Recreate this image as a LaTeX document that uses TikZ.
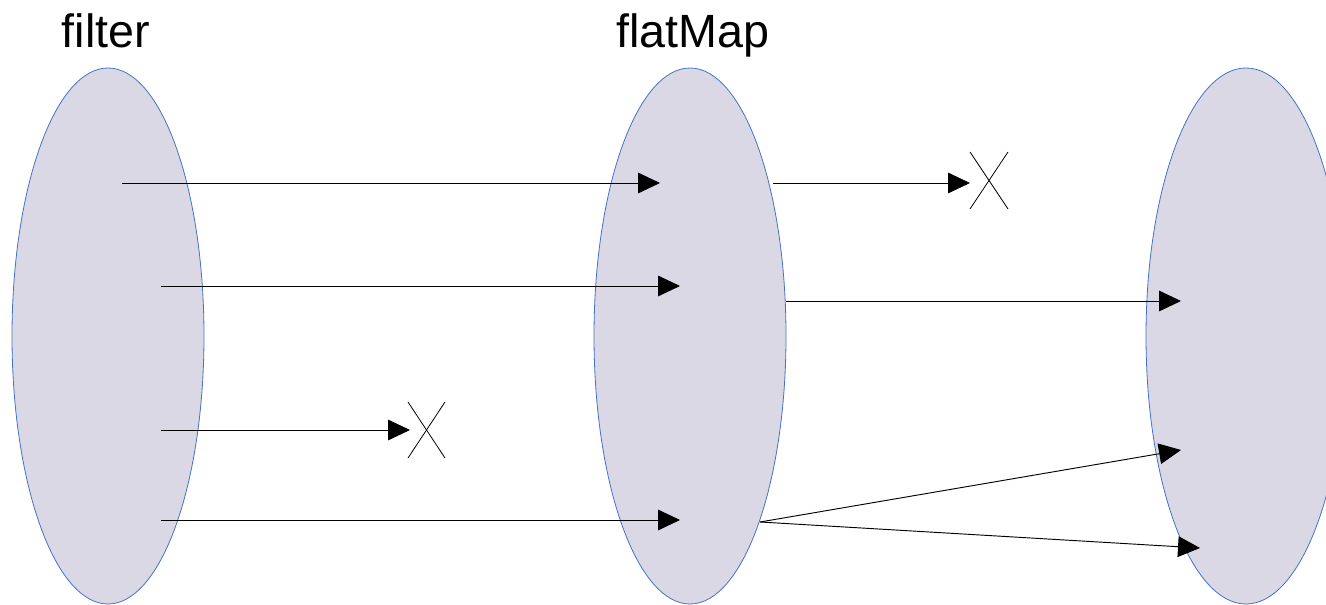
\documentclass[tikz,border=0pt]{standalone}
\usepackage{fontspec}
\setmainfont{Liberation Sans}
\usetikzlibrary{shapes.geometric,arrows.meta}
\definecolor{setfill}{HTML}{DAD8E4}
\definecolor{setline}{HTML}{4472C4}
\begin{document}
\begin{tikzpicture}[x=0.75pt,y=-0.75pt,
  setshape/.style={ellipse,draw=setline,fill=setfill,line width=0.6pt,inner sep=0pt},
  maparrow/.style={draw=black,line width=0.7pt,-{Triangle[length=16.5pt,width=15.5pt]}},
  crossline/.style={draw=black,line width=0.6pt},
  title/.style={font=\fontsize{35}{40}\selectfont,anchor=base}]
\useasboundingbox (0,0) rectangle (1326,605);
\node[setshape,minimum width=144pt,minimum height=402pt] (A) at (108,336) {};
\node[setshape,minimum width=144pt,minimum height=402pt] (B) at (690,336) {};
\node[setshape,minimum width=150pt,minimum height=402pt] (C) at (1246,336) {};
\node[title] (tA) at (106,48) {filter};
\node[title] (tB) at (693,48) {flatMap};
% arrow endpoints
\coordinate (a1) at (122,183);
\coordinate (a2) at (161,286);
\coordinate (a3) at (161,430);
\coordinate (a4) at (161,520);
\coordinate (b1) at (660,183);
\coordinate (b2) at (680,286);
\coordinate (x1) at (410,430);
\coordinate (b4) at (680,520);
\coordinate (b5) at (773,183);
\coordinate (x2) at (970,183);
\coordinate (b6) at (786,301);
\coordinate (b7) at (760,522);
\coordinate (c6) at (1181,301);
\coordinate (c7) at (1181,450);
\coordinate (c8) at (1200,548);
\draw[maparrow] (a1) -- (b1);
\draw[maparrow] (a2) -- (b2);
\draw[maparrow] (a3) -- (x1);
\draw[maparrow] (a4) -- (b4);
\draw[maparrow] (b5) -- (x2);
\draw[maparrow] (b6) -- (c6);
\draw[maparrow] (b7) -- (c7);
\draw[maparrow] (b7) -- (c8);
% crosses
\coordinate (p1) at (408,402); \coordinate (p2) at (445,458);
\coordinate (p3) at (445,402); \coordinate (p4) at (408,458);
\draw[crossline] (p1) -- (p2);
\draw[crossline] (p3) -- (p4);
\coordinate (q1) at (970,152); \coordinate (q2) at (1008,209);
\coordinate (q3) at (1008,152); \coordinate (q4) at (970,209);
\draw[crossline] (q1) -- (q2);
\draw[crossline] (q3) -- (q4);
\end{tikzpicture}
\end{document}
